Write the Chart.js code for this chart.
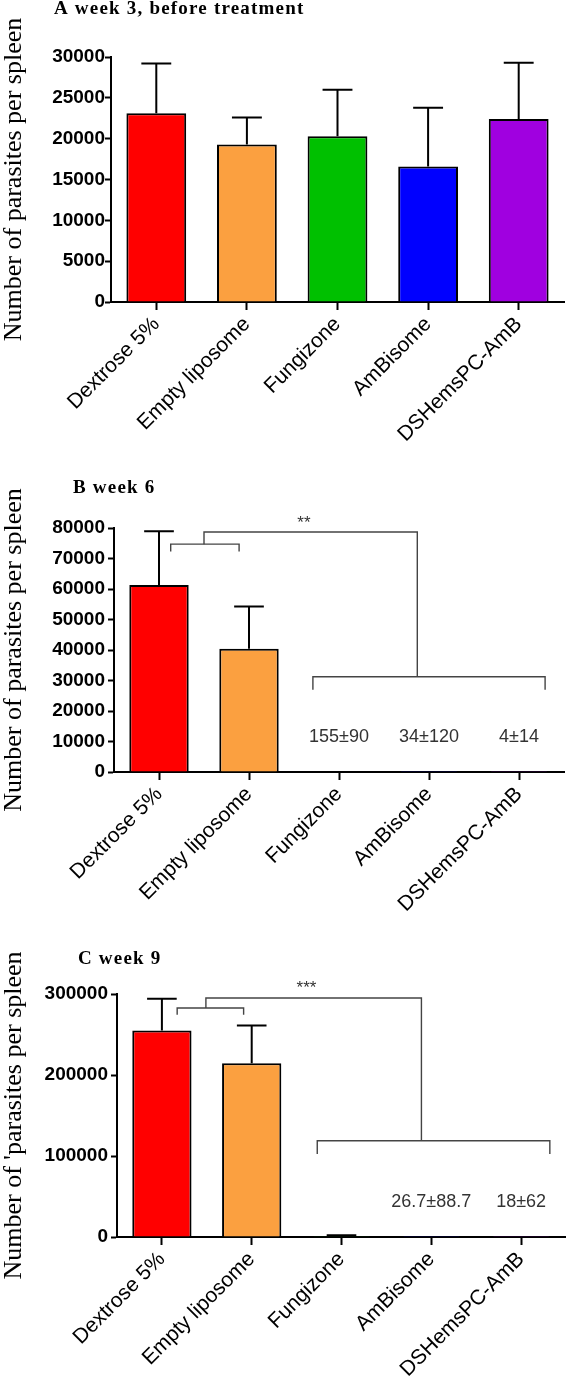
<!DOCTYPE html>
<html>
<head>
<meta charset="utf-8">
<title>Parasites per spleen</title>
<script src="https://cdn.jsdelivr.net/npm/chart.js@4.4.1/dist/chart.umd.min.js"></script>
<style>
    body { margin: 0; background: #fff; width: 566px; height: 1380px; overflow: hidden; }
    .panel { position: absolute; left: 0; width: 566px; }
</style>
</head>
<body>
<div class="panel" style="top: 0; height: 460px;"><canvas id="chartA"></canvas></div>
<div class="panel" style="top: 460px; height: 480px;"><canvas id="chartB"></canvas></div>
<div class="panel" style="top: 900px; height: 480px;"><canvas id="chartC"></canvas></div>

<script>
// categories and colours
const groups = ['Dextrose 5%', 'Empty liposome', 'Fungizone', 'AmBisome', 'DSHemsPC-AmB'];
const barColors = ['#ff0000', '#fba040', '#00c000', '#0000ff', '#a000e0'];

// A - week 3, before treatment
const week3Mean = [23100, 19300, 20300, 16600, 22400];
const week3Sd = [6100, 3300, 5700, 7200, 6900];
const week3Ticks = [0, 5000, 10000, 15000, 20000, 25000, 30000];

// B - week 6
const week6Mean = [61300, 40400, 155, 34, 4];
const week6Sd = [17600, 13900, 90, 120, 14];
const week6Ticks = [0, 10000, 20000, 30000, 40000, 50000, 60000, 70000, 80000];
const week6Notes = ['', '', '155±90', '34±120', '4±14'];

// C - week 9
const week9Mean = [255000, 214600, 1000, 26.7, 18];
const week9Sd = [39200, 46500, 1200, 88.7, 62];
const week9Ticks = [0, 100000, 200000, 300000];
const week9Notes = ['', '', '', '26.7±88.7', '18±62'];

// significance brackets, in [category index, value] units
const week6Brackets = [
    [[0.13, 72300], [0.13, 74700], [0.89, 74700], [0.89, 72300]],
    [[0.5, 74700], [0.5, 78700], [2.87, 78700], [2.87, 31250]],
    [[1.71, 27000], [1.71, 31250], [4.29, 31250], [4.29, 27000]]
];
const week9Brackets = [
    [[0.17, 274400], [0.17, 282700], [0.91, 282700], [0.91, 274400]],
    [[0.49, 282700], [0.49, 295000], [2.89, 295000], [2.89, 118800]],
    [[1.73, 102400], [1.73, 118800], [4.32, 118800], [4.32, 102400]]
];

// draws error bars, brackets, notes and the panel title
const annotatePlugin = {
    id: 'annotate',
    afterDatasetsDraw(chart, args, o) {
        const ctx = chart.ctx;
        const xs = chart.scales.x;
        const ys = chart.scales.y;
        const meta = chart.getDatasetMeta(0);
        ctx.save();

        // error bars (upper only), skipped when smaller than a pixel
        ctx.strokeStyle = '#000';
        ctx.lineWidth = 2;
        o.sd.forEach((sd, i) => {
            const bar = meta.data[i];
            const top = ys.getPixelForValue(o.mean[i]);
            const end = ys.getPixelForValue(o.mean[i] + sd);
            if (ys.getPixelForValue(0) - end < 1) return;
            const cap = bar.width * 0.25;
            ctx.beginPath();
            ctx.moveTo(bar.x, top);
            ctx.lineTo(bar.x, end);
            ctx.moveTo(bar.x - cap, end);
            ctx.lineTo(bar.x + cap, end);
            ctx.stroke();
        });

        // brackets
        ctx.strokeStyle = '#444';
        ctx.lineWidth = 1.4;
        (o.brackets || []).forEach(path => {
            ctx.beginPath();
            path.forEach((p, k) => {
                const px = xs.getPixelForValue(p[0]);
                const py = ys.getPixelForValue(p[1]);
                if (k === 0) ctx.moveTo(px, py); else ctx.lineTo(px, py);
            });
            ctx.stroke();
        });

        // stars
        if (o.stars) {
            ctx.fillStyle = '#333';
            ctx.font = '17px "Liberation Sans", Arial, sans-serif';
            ctx.textAlign = 'center';
            ctx.textBaseline = 'alphabetic';
            ctx.fillText(o.stars, xs.getPixelForValue(o.starsAt[0]), ys.getPixelForValue(o.starsAt[1]) + 10);
        }

        // mean ± sd notes
        if (o.notes) {
            ctx.fillStyle = '#333';
            ctx.font = '18px "Liberation Sans", Arial, sans-serif';
            ctx.textAlign = 'center';
            ctx.textBaseline = 'middle';
            o.notes.forEach((t, i) => {
                if (t) ctx.fillText(t, xs.getPixelForValue(i), ys.getPixelForValue(o.notesAt));
            });
        }

        // panel title
        ctx.fillStyle = '#000';
        ctx.font = 'bold 19px "Liberation Serif", "Times New Roman", serif';
        ctx.textAlign = 'left';
        ctx.textBaseline = 'alphabetic';
        ctx.letterSpacing = '1.2px';
        ctx.fillText(o.title, o.titleX, o.titleY);
        ctx.restore();
    }
};

function makePanel(id, p) {
    return new Chart(document.getElementById(id), {
        type: 'bar',
        data: {
            labels: groups,
            datasets: [{
                data: p.mean,
                backgroundColor: barColors,
                borderColor: '#000',
                borderWidth: 2,
                barPercentage: 1,
                categoryPercentage: 0.66
            }]
        },
        options: {
            responsive: true,
            maintainAspectRatio: false,
            animation: false,
            layout: { padding: { top: p.top, right: p.right, left: 0, bottom: 0 } },
            plugins: {
                legend: { display: false },
                tooltip: { enabled: false },
                annotate: p
            },
            scales: {
                x: {
                    grid: { drawOnChartArea: false, offset: false, tickLength: 8, tickWidth: 2, tickColor: '#000' },
                    border: { color: '#000', width: 2 },
                    ticks: {
                        color: '#000',
                        autoSkip: false,
                        minRotation: 45,
                        maxRotation: 45,
                        padding: 2,
                        font: { family: '"Liberation Sans", Arial, sans-serif', size: 21 }
                    },
                    afterFit: s => { s.height = p.xHeight; }
                },
                y: {
                    min: 0,
                    max: p.ticks[p.ticks.length - 1],
                    afterBuildTicks: s => { s.ticks = p.ticks.map(v => ({ value: v })); },
                    grid: { drawOnChartArea: false, tickLength: 6, tickWidth: 2, tickColor: '#000' },
                    border: { color: '#000', width: 2 },
                    ticks: {
                        color: '#000',
                        padding: p.tickPad,
                        font: { family: '"Liberation Sans", Arial, sans-serif', size: 19, weight: 'bold' },
                        callback: v => String(v)
                    },
                    title: {
                        display: true,
                        text: p.yTitle,
                        color: '#000',
                        padding: 0,
                        font: { family: '"Liberation Serif", "Times New Roman", serif', size: 26, lineHeight: 1.1 }
                    },
                    afterFit: s => { s.width = p.left; }
                }
            }
        },
        plugins: [annotatePlugin]
    });
}

makePanel('chartA', {
    mean: week3Mean, sd: week3Sd, ticks: week3Ticks,
    title: 'A week 3, before treatment', titleX: 54, titleY: 14,
    yTitle: 'Number of parasites per spleen',
    top: 57, right: 2, left: 111, xHeight: 158, tickPad: 0
});

makePanel('chartB', {
    mean: week6Mean, sd: week6Sd, ticks: week6Ticks,
    title: 'B week 6', titleX: 73, titleY: 33,
    yTitle: 'Number of parasites per spleen',
    brackets: week6Brackets, stars: '**', starsAt: [1.61, 83300],
    notes: week6Notes, notesAt: 11600,
    top: 68, right: 2, left: 114, xHeight: 168, tickPad: 3
});

makePanel('chartC', {
    mean: week9Mean, sd: week9Sd, ticks: week9Ticks,
    title: 'C week 9', titleX: 78, titleY: 64,
    yTitle: "Number of 'parasites per spleen",
    brackets: week9Brackets, stars: '***', starsAt: [1.61, 313600],
    notes: week9Notes, notesAt: 43300,
    top: 94, right: 0, left: 117, xHeight: 143, tickPad: 3
});
</script>
</body>
</html>
